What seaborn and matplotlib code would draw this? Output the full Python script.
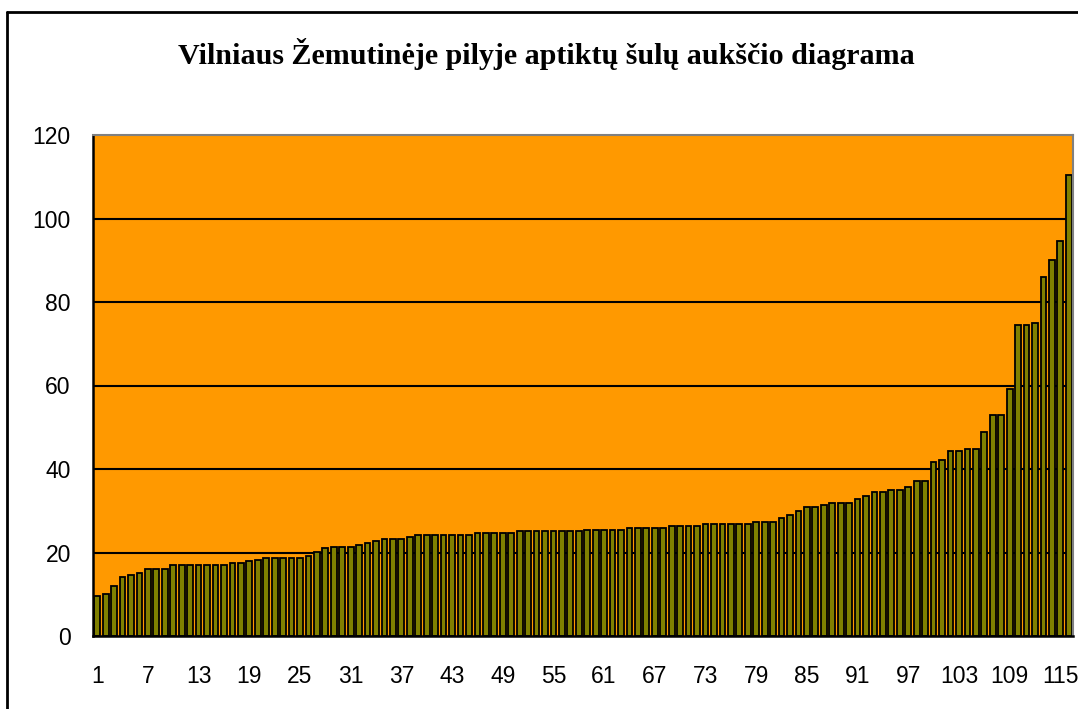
import matplotlib
matplotlib.use("Agg")
import matplotlib.pyplot as plt
from matplotlib.lines import Line2D
import numpy as np
import pandas as pd
import seaborn as sns

# Well numbers (sorted by height) and heights
well_no = list(range(1, 117))
heights = [
    9.7, 10.1, 11.9, 14.2, 14.7, 15.2, 16.0, 16.0, 16.0,
    16.9, 16.9, 16.9, 16.9, 16.9, 16.9, 16.9,
    17.4, 17.4, 17.9, 18.3,
    18.8, 18.8, 18.8, 18.8, 18.8,
    19.2, 20.1, 21.0,
    21.4, 21.4, 21.4,
    21.9, 22.3, 22.7,
    23.2, 23.2, 23.2, 23.7,
    24.2, 24.2, 24.2, 24.2, 24.2, 24.2, 24.2,
    24.7, 24.7, 24.7, 24.7, 24.7,
    25.1, 25.1, 25.1, 25.1, 25.1, 25.1, 25.1, 25.1,
    25.5, 25.5, 25.5, 25.5, 25.5,
    25.9, 25.9, 25.9, 25.9, 25.9,
    26.3, 26.3, 26.3, 26.3,
    26.9, 26.9, 26.9, 26.9, 26.9, 26.9,
    27.3, 27.3, 27.3,
    28.2, 29.1, 29.9,
    30.9, 30.9, 31.4,
    31.8, 31.8, 31.8,
    32.7, 33.5,
    34.5, 34.5, 35.0, 35.0, 35.8,
    37.1, 37.1, 41.7, 42.2,
    44.3, 44.3, 44.7, 44.7, 48.9,
    52.9, 52.9, 59.1,
    74.5, 74.5, 74.9,
    86.1, 90.1, 94.6, 110.4,
]
y_ticks = [0, 20, 40, 60, 80, 100, 120]
x_tick_labels = [str(n) for n in well_no[::6]]

title = "Vilniaus Žemutinėje pilyje aptiktų šulų aukščio diagrama"

df = pd.DataFrame({"no": well_no, "h": heights})

sns.set_style("white")
plt.rcParams["font.family"] = ["Liberation Sans", "DejaVu Sans"]
plt.rcParams["text.color"] = "black"
plt.rcParams["xtick.color"] = "black"
plt.rcParams["ytick.color"] = "black"

W, H = 1078, 709
fig = plt.figure(figsize=(W / 100, H / 100), dpi=100)
fig.patch.set_facecolor("white")

ax = fig.add_axes([93 / W, (H - 636) / H, 980 / W, 501 / H])
ax.set_facecolor("#FF9900")

sns.barplot(data=df, x="no", y="h", ax=ax, color="#808000",
            saturation=1, width=0.68, edgecolor="black", linewidth=1.3,
            zorder=3)

ax.set_xlim(-0.5, len(well_no) - 0.5)
ax.set_ylim(0, 120)
ax.set_yticks(y_ticks)
ax.set_yticklabels([str(t) for t in y_ticks], fontsize=16.5)

# gridlines at every 20 units
for t in y_ticks[1:-1]:
    ax.axhline(t, color="black", linewidth=1.5, zorder=2)

# category labels every 6th bar, tick marks between each bar
ax.set_xticks(np.arange(0, len(well_no), 6))
ax.set_xticklabels(x_tick_labels, fontsize=16.5)
ax.set_xticks(np.arange(-0.5, len(well_no), 1.0), minor=True)
ax.tick_params(axis="x", which="major", length=0, pad=21)
ax.tick_params(axis="x", which="minor", length=6, width=1.3,
               color="black", direction="out")
ax.tick_params(axis="y", which="major", length=6, width=1.3,
               color="black", direction="out", pad=10)
ax.set_xlabel("")
ax.set_ylabel("")

for side in ("left", "bottom"):
    ax.spines[side].set_color("black")
    ax.spines[side].set_linewidth(1.8)
for side in ("top", "right"):
    ax.spines[side].set_color("#808080")
    ax.spines[side].set_linewidth(1.5)
for s in ax.spines.values():
    s.set_zorder(5)

# chart frame
fig.add_artist(Line2D([7 / W, 7 / W], [0, 1 - 12 / H], transform=fig.transFigure,
                      color="black", linewidth=2))
fig.add_artist(Line2D([7 / W, 1], [1 - 12 / H, 1 - 12 / H], transform=fig.transFigure,
                      color="black", linewidth=2))

fig.text(546 / W, 1 - 54 / H, title, ha="center", va="center",
         fontsize=21.6, fontweight="bold", color="black",
         family=["Liberation Serif", "DejaVu Serif"])

fig.savefig("out.png", dpi=100)
